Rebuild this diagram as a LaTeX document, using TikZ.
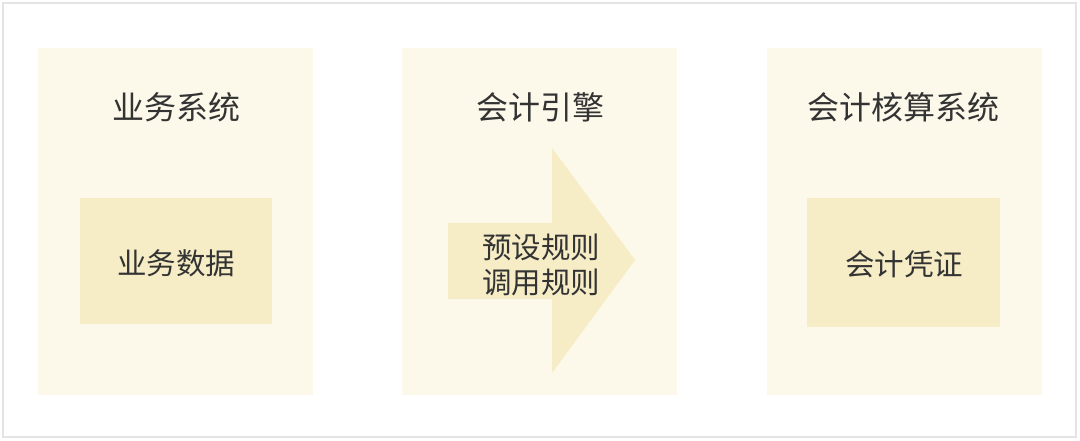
\documentclass[tikz,border=0pt]{standalone}
\usepackage{fontspec}
\setmainfont{Noto Sans CJK SC}
\definecolor{panelbg}{HTML}{FCF8EA}
\definecolor{innerbg}{HTML}{F6EDC6}
\definecolor{txt}{HTML}{333333}
\definecolor{frame}{HTML}{E4E4E4}
\begin{document}
\begin{tikzpicture}[x=1pt,y=-1pt,
  panel/.style={fill=panelbg,draw=none},
  inner/.style={fill=innerbg,draw=none},
  title/.style={text=txt,font=\fontsize{32}{38}\selectfont,inner sep=0pt},
  label/.style={text=txt,font=\fontsize{29.5}{35}\selectfont,inner sep=0pt,align=center}]
\useasboundingbox (0,0) rectangle (1080,441);
\fill[white] (0,0) rectangle (1080,441);
\draw[frame,line width=1.5pt] (3,3) rectangle (1076,437);
% panels
\path[panel] (38,48) rectangle (313,395);
\path[panel] (402,48) rectangle (677,395);
\path[panel] (767,48) rectangle (1042,395);
% inner boxes
\path[inner] (80,198) rectangle (272,324);
\path[inner] (807,198) rectangle (1000,327);
\path[inner] (448,223) -- (552,223) -- (552,148) -- (635,260) -- (552,373) -- (552,299) -- (448,299) -- cycle;
% texts
\node[title] (t1) at (176,107) {业务系统};
\node[title] (t2) at (540,107) {会计引擎};
\node[title] (t3) at (903,107) {会计核算系统};
\node[label] (d1) at (176,263) {业务数据};
\node[label] (r) at (541,265) {预设规则\\调用规则};
\node[label] (d3) at (904,264) {会计凭证};
\end{tikzpicture}
\end{document}
